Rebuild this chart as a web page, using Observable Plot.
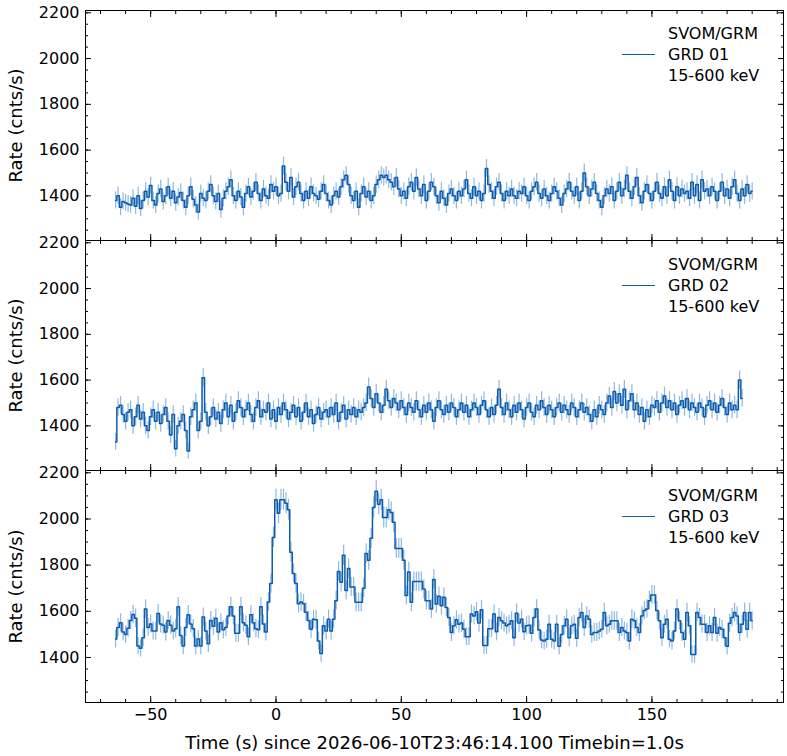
<!DOCTYPE html>
<html><head><meta charset="utf-8">
<script src="https://cdn.jsdelivr.net/npm/d3@7"></script>
<script src="https://cdn.jsdelivr.net/npm/@observablehq/plot@0.6"></script>
<style>
body{margin:0;background:#fff;font-family:"DejaVu Sans",sans-serif}
#wrap{position:relative;width:787px;height:756px}
svg{display:block}
.leg{position:absolute;font:16px "DejaVu Sans";line-height:21px;color:#000}
.legline{position:absolute;width:33px;height:0;border-top:1.5px solid #0b5cad}
</style></head><body><div id="wrap"></div>
<script>
const startTime = -64;
const detectors = ["GRD 01","GRD 02","GRD 03"];
const energyBand = "15-600 keV";
const instrument = "SVOM/GRM";
const rateTicks = [1400,1600,1800,2000,2200];
const timeTicks = [-50,0,50,100,150];

const rates01 = [
1380,1400,1350,1375,
1370,1365,1360,1390,1355,1400,1345,1380,1420,1395,1445,1380,1360,1410,1430,1375,1400,1440,1390,1420,
1370,1395,1415,1380,1350,1400,1440,1385,1360,1330,1410,1390,1380,1420,1450,1400,1375,1410,1340,1390,
1420,1440,1470,1400,1380,1420,1395,1350,1410,1440,1395,1420,1460,1410,1380,1430,1400,1390,1450,1420,
1440,1400,1410,1530,1460,1420,1480,1395,1440,1460,1410,1380,1420,1390,1440,1410,1400,1385,1420,1450,
1410,1380,1360,1400,1420,1395,1440,1470,1490,1450,1400,1380,1420,1350,1410,1440,1395,1420,1380,1400,
1450,1470,1490,1480,1490,1470,1460,1440,1480,1430,1400,1420,1390,1440,1460,1420,1480,1430,1400,1450,
1380,1420,1460,1440,1400,1370,1420,1390,1360,1410,1430,1400,1380,1420,1400,1430,1470,1410,1390,1440,
1400,1420,1380,1410,1520,1450,1420,1390,1440,1460,1410,1380,1420,1400,1430,1400,1390,1420,1410,1440,
1400,1380,1420,1440,1460,1410,1390,1430,1400,1380,1410,1440,1420,1390,1360,1410,1430,1460,1420,1400,
1440,1380,1420,1500,1440,1400,1430,1460,1410,1380,1350,1400,1430,1410,1440,1380,1420,1460,1400,1430,
1490,1420,1390,1440,1480,1400,1370,1420,1450,1410,1380,1420,1460,1410,1390,1440,1400,1470,1420,1380,
1440,1400,1430,1410,1420,1390,1460,1400,1450,1380,1470,1420,1430,1400,1440,1420,1380,1420,
1460,1400,1430,1390,1440,1470,1410,1380,1430,1400,1450,1410,1420];

const rates02 = [
1330,1480,1490,1450,
1420,1460,1470,1400,1440,1490,1430,1460,1400,1380,1440,1470,1420,1460,1410,1450,
1480,1420,1360,1450,1300,1400,1420,1450,1380,1290,1440,1470,1500,1380,1420,1610,1460,1400,1440,1480,
1430,1460,1410,1470,1500,1440,1490,1420,1460,1510,1480,1440,1470,1500,1450,1420,1480,1510,1440,1470,
1460,1500,1430,1470,1420,1480,1450,1500,1470,1430,1460,1490,1440,1480,1420,1460,1500,1440,1470,1410,
1450,1480,1430,1460,1470,1440,1480,1450,1500,1420,1460,1490,1430,1470,1450,1480,1440,1470,1460,1480,
1500,1570,1520,1480,1540,1500,1460,1490,1560,1510,1480,1520,1500,1470,1510,1480,1450,1500,1480,1460,
1510,1470,1440,1490,1460,1500,1470,1420,1480,1510,1470,1450,1490,1460,1500,1480,1440,1470,1500,1460,
1490,1440,1470,1500,1480,1450,1490,1510,1470,1440,1480,1450,1490,1560,1480,1450,1500,1470,1440,1490,
1460,1500,1470,1430,1480,1500,1460,1440,1490,1470,1510,1480,1450,1490,1470,1440,1480,1500,1460,1490,
1470,1450,1500,1480,1440,1470,1500,1460,1480,1450,1420,1470,1440,1490,1470,1450,1500,1530,1480,1550,
1500,1540,1490,1560,1470,1510,1540,1470,1500,1450,1480,1420,1470,1440,1490,1480,1510,1460,1500,1530,
1480,1510,1470,1500,1450,1490,1510,1480,1520,1470,1500,1480,1460,1500,1480,
1440,1490,1510,1470,1500,1460,1490,1520,1480,1450,1500,1470,1490,
1470,1600,1520];

const rates03 = [
1480,1530,1550,1510,
1500,1527,1560,1586,1570,1450,1440,1485,1610,1530,
1545,1515,1515,1590,1545,1540,1510,1560,1540,1515,
1525,1620,1495,1450,1530,1585,1545,1525,1450,1480,
1450,1575,1515,1460,1560,1535,1570,1510,1550,1520,
1530,1580,1620,1580,1505,1505,1620,1550,1540,1490,
1585,1550,1525,1520,1620,1545,1510,1640,1720,1920,
2083,2025,2083,2083,2068,2040,1856,1764,1720,1633,1640,1633,1596,1560,1522,1566,1563,1471,1417,1537,1515,1566,
1515,1566,1646,1773,1726,1843,1690,1785,1705,1705,1639,1639,1639,1700,1850,1821,1916,2050,2120,2064,
2083,2006,2006,2040,2028,1986,1872,1872,1872,1821,1668,1770,1639,1729,1729,1729,1729,1697,1646,1646,
1610,1738,1632,1665,1624,1661,1617,1573,1508,1537,1563,1544,1549,1522,1490,1490,1588,1580,1598,1549,
1607,1452,1452,1525,1525,1588,1511,1573,1559,1549,1537,1544,1559,1486,1592,1549,1566,1511,1537,1540,
1505,1573,1610,1519,1476,1471,1479,1544,
1479,1471,1544,1449,1500,1537,1566,1486,1537,1544,
1483,1573,1595,1530,1580,1566,1500,1508,1508,1515,
1522,1595,1537,1544,1559,1559,1559,1508,1530,1515,
1508,1471,1566,1559,1530,1508,1580,1603,1610,1646,1671,1671,
1603,1559,1486,1544,1566,1479,1471,1515,1610,1559,
1508,1479,1595,1537,1413,1413,
1595,1573,1544,1544,1508,1537,1508,1573,1505,1530,1522,1486,1449,1548,1573,1595,1580,1508,1544,1595,1522,1595,1559];

const series = [rates01, rates02, rates03];
const wrap = document.getElementById("wrap");
const heights = [240,230,286];
const tops = [10,0,0];
const bottoms = [0,0,54];
const legOffsets = [13,14,15];
const lineColor = "#0b5cad";
const blank = () => "";
let yOff = 0;
series.forEach((vals, i) => {
  const data = vals.map((r, k) => ({t: startTime + k, r, e: Math.sqrt(r)}));
  const last = i === 2;
  const minorX = d3.range(-70, 201, 10);
  const minorY = d3.range(1250, 2201, 50);
  const p = Plot.plot({
    width: 787, height: heights[i],
    marginLeft: 85, marginRight: 4, marginTop: tops[i], marginBottom: bottoms[i],
    style: {fontFamily: "DejaVu Sans", fontSize: "16px", color: "#000", overflow: "visible"},
    x: {domain: [-76, 202.5]},
    y: {domain: [1205, 2210]},
    marks: [
      Plot.ruleX(data, {x: "t", y1: d => d.r - d.e, y2: d => d.r + d.e, stroke: "#6b9fd4", strokeOpacity: 0.75, strokeWidth: 1.2}),
      Plot.line(data, {x: "t", y: "r", curve: "step", stroke: lineColor, strokeWidth: 1.5}),
      Plot.frame({stroke: "#000", strokeWidth: 1}),
      Plot.axisY({ticks: rateTicks, tickSize: -6, tickPadding: 12, fontSize: 16,
        label: "Rate (cnts/s)", labelAnchor: "center", labelArrow: "none", labelOffset: 76, tickFormat: d => String(d)}),
      Plot.axisY({ticks: minorY, tickSize: -3, tickFormat: blank, label: null}),
      Plot.axisY({anchor: "right", ticks: rateTicks, tickSize: -6, tickFormat: blank, label: null}),
      Plot.axisY({anchor: "right", ticks: minorY, tickSize: -3, tickFormat: blank, label: null}),
      Plot.axisX({anchor: "top", ticks: timeTicks, tickSize: -6, tickFormat: blank, label: null}),
      Plot.axisX({anchor: "top", ticks: minorX, tickSize: -3, tickFormat: blank, label: null}),
      Plot.axisX({anchor: "bottom", ticks: timeTicks, tickSize: -6, tickPadding: 12,
        tickFormat: last ? (d => d < 0 ? "\u2212" + Math.abs(d) : String(d)) : blank,
        label: last ? "Time (s) since 2026-06-10T23:46:14.100 Timebin=1.0s" : null,
        labelAnchor: "center", labelArrow: "none", labelOffset: 46, fontSize: 16}),
      Plot.axisX({anchor: "bottom", ticks: minorX, tickSize: -3, tickFormat: blank, label: null})
    ]
  });
  p.querySelectorAll("g[aria-label='y-axis label'] text, g[aria-label='x-axis label'] text").forEach(t => t.style.fontSize = "18px");
  wrap.appendChild(p);
  const legTop = yOff + tops[i] + legOffsets[i];
  const leg = document.createElement("div");
  leg.className = "leg";
  leg.style.left = "668px"; leg.style.top = legTop + "px";
  leg.innerHTML = instrument + "<br>" + detectors[i] + "<br>" + energyBand;
  wrap.appendChild(leg);
  const ln = document.createElement("div");
  ln.className = "legline";
  ln.style.left = "622px"; ln.style.top = (legTop + 31) + "px";
  wrap.appendChild(ln);
  yOff += heights[i];
});
</script></body></html>
